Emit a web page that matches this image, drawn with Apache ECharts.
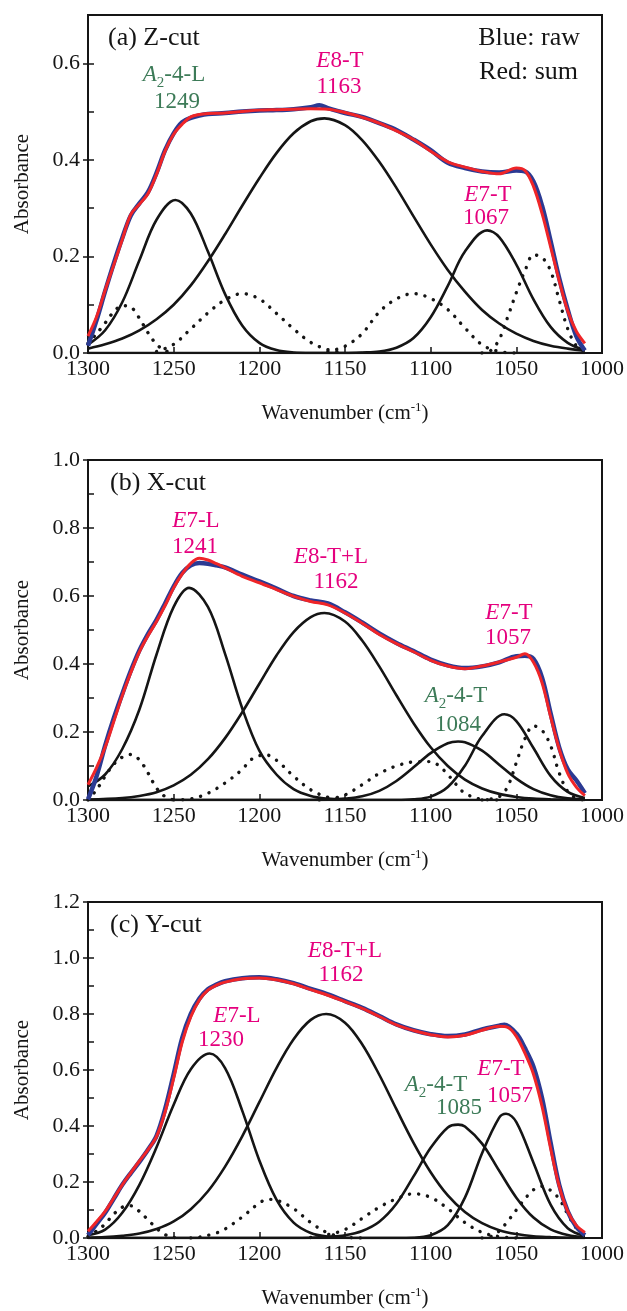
<!DOCTYPE html>
<html>
<head>
<meta charset="UTF-8">
<title>IR absorbance peak fits</title>
<script src="https://cdn.jsdelivr.net/npm/echarts@6/dist/echarts.min.js"></script>
<style>
  html, body { margin: 0; padding: 0; background: #fff; }
  #main { width: 627px; height: 1311px; }
</style>
</head>
<body>
<div id="main"></div>
<script>
// values, as [wavenumber, absorbance]

// (a) Z-cut
var zSum = [[1300,0.035],[1295,0.075],[1290,0.13],[1285,0.182],[1280,0.235],[1275,0.287],[1270,0.308],[1265,0.33],[1260,0.37],[1255,0.418],[1250,0.453],[1245,0.474],[1240,0.489],[1235,0.494],[1230,0.496],[1220,0.497],[1210,0.5],[1200,0.503],[1190,0.504],[1180,0.505],[1170,0.506],[1160,0.505],[1150,0.498],[1140,0.488],[1130,0.476],[1120,0.46],[1110,0.442],[1100,0.418],[1090,0.396],[1080,0.385],[1070,0.376],[1060,0.371],[1050,0.383],[1045,0.378],[1040,0.345],[1035,0.289],[1030,0.22],[1025,0.15],[1020,0.087],[1015,0.045],[1010,0.02]];
var zRaw = [[1300,0.015],[1295,0.068],[1290,0.128],[1285,0.185],[1280,0.238],[1275,0.285],[1270,0.31],[1265,0.333],[1260,0.373],[1255,0.42],[1250,0.455],[1245,0.478],[1240,0.487],[1235,0.492],[1230,0.495],[1220,0.497],[1210,0.5],[1200,0.502],[1190,0.503],[1180,0.505],[1170,0.509],[1165,0.513],[1160,0.507],[1150,0.497],[1140,0.489],[1130,0.476],[1120,0.462],[1110,0.442],[1100,0.42],[1090,0.394],[1080,0.383],[1070,0.376],[1060,0.374],[1050,0.378],[1045,0.376],[1040,0.355],[1035,0.305],[1030,0.232],[1025,0.155],[1020,0.09],[1015,0.035],[1010,0.005]];
var zPeak1249 = [[1300,0.017],[1290,0.047],[1280,0.105],[1270,0.192],[1260,0.276],[1249,0.317],[1240,0.289],[1230,0.21],[1220,0.122],[1210,0.057],[1200,0.021],[1190,0.006],[1180,0.001],[1170,0],[1010,0]];
var zPeak1163 = [[1300,0.009],[1290,0.018],[1280,0.03],[1270,0.047],[1260,0.07],[1250,0.1],[1240,0.14],[1230,0.19],[1220,0.246],[1210,0.305],[1200,0.362],[1190,0.414],[1180,0.455],[1170,0.48],[1162,0.486],[1150,0.472],[1140,0.441],[1130,0.396],[1120,0.342],[1110,0.283],[1100,0.225],[1090,0.172],[1080,0.127],[1070,0.089],[1060,0.061],[1050,0.04],[1040,0.025],[1030,0.015],[1020,0.009],[1010,0.005]];
var zPeak1067 = [[1300,0],[1150,0],[1140,0.001],[1130,0.003],[1120,0.011],[1110,0.031],[1100,0.074],[1090,0.139],[1080,0.21],[1067,0.254],[1060,0.24],[1050,0.183],[1040,0.111],[1030,0.054],[1020,0.021],[1010,0.006]];
var zDot1 = [[1300,0.02],[1295,0.04],[1290,0.062],[1285,0.085],[1280,0.098],[1275,0.095],[1270,0.072],[1265,0.042],[1260,0.018],[1255,0.005],[1250,0]];
var zDot2 = [[1260,0.003],[1250,0.018],[1240,0.05],[1230,0.083],[1220,0.11],[1210,0.123],[1200,0.112],[1190,0.082],[1180,0.05],[1170,0.022],[1160,0.007],[1150,0]];
var zDot3 = [[1160,0.003],[1150,0.014],[1140,0.04],[1130,0.085],[1120,0.112],[1110,0.123],[1100,0.113],[1090,0.09],[1080,0.052],[1070,0.017],[1060,0.003],[1050,0]];
var zDot4 = [[1070,0],[1065,0.005],[1060,0.028],[1055,0.075],[1050,0.125],[1045,0.17],[1040,0.203],[1035,0.198],[1030,0.17],[1025,0.11],[1020,0.05],[1015,0.015],[1010,0.003]];

// (b) X-cut
var xSum = [[1300,0.045],[1295,0.095],[1290,0.155],[1285,0.23],[1280,0.307],[1275,0.375],[1270,0.436],[1265,0.483],[1260,0.525],[1255,0.572],[1250,0.624],[1245,0.665],[1240,0.696],[1235,0.711],[1230,0.706],[1225,0.695],[1220,0.683],[1210,0.658],[1200,0.639],[1190,0.619],[1180,0.599],[1170,0.584],[1160,0.574],[1150,0.55],[1140,0.52],[1130,0.487],[1120,0.46],[1110,0.436],[1100,0.411],[1090,0.394],[1080,0.386],[1070,0.394],[1060,0.406],[1050,0.42],[1045,0.43],[1040,0.405],[1035,0.345],[1030,0.245],[1025,0.15],[1020,0.078],[1015,0.038],[1010,0.013]];
var xRaw = [[1300,0.002],[1295,0.07],[1290,0.16],[1285,0.24],[1280,0.312],[1275,0.38],[1270,0.44],[1265,0.488],[1260,0.53],[1255,0.578],[1250,0.628],[1245,0.668],[1240,0.69],[1235,0.697],[1230,0.695],[1225,0.69],[1220,0.684],[1210,0.663],[1200,0.643],[1190,0.622],[1180,0.6],[1170,0.587],[1160,0.578],[1150,0.552],[1140,0.522],[1130,0.49],[1120,0.462],[1110,0.438],[1100,0.413],[1090,0.396],[1080,0.388],[1070,0.393],[1060,0.405],[1050,0.423],[1045,0.424],[1040,0.415],[1035,0.36],[1030,0.255],[1025,0.155],[1020,0.09],[1015,0.058],[1010,0.02]];
var xPeak1241 = [[1300,0.04],[1290,0.075],[1280,0.15],[1270,0.266],[1260,0.428],[1250,0.568],[1241,0.624],[1230,0.568],[1220,0.43],[1210,0.27],[1200,0.145],[1190,0.075],[1180,0.032],[1170,0.012],[1160,0.004],[1150,0.001],[1140,0],[1010,0]];
var xPeak1162 = [[1300,0.001],[1280,0.006],[1270,0.012],[1260,0.023],[1250,0.043],[1240,0.074],[1230,0.12],[1220,0.182],[1210,0.258],[1200,0.342],[1190,0.425],[1180,0.494],[1170,0.538],[1162,0.55],[1150,0.525],[1140,0.469],[1130,0.393],[1120,0.308],[1110,0.226],[1100,0.155],[1090,0.1],[1080,0.06],[1070,0.034],[1060,0.018],[1050,0.009],[1040,0.004],[1030,0.002],[1010,0]];
var xPeak1084 = [[1300,0],[1170,0],[1160,0.001],[1150,0.004],[1140,0.011],[1130,0.027],[1120,0.056],[1110,0.096],[1100,0.138],[1090,0.167],[1084,0.172],[1080,0.17],[1070,0.145],[1060,0.104],[1050,0.063],[1040,0.032],[1030,0.014],[1020,0.005],[1010,0.002]];
var xPeak1057 = [[1300,0],[1120,0],[1110,0.002],[1100,0.01],[1090,0.038],[1080,0.101],[1070,0.188],[1057,0.252],[1050,0.232],[1040,0.153],[1030,0.071],[1020,0.024],[1010,0.006]];
var xDot1 = [[1300,0],[1295,0.03],[1290,0.07],[1285,0.105],[1280,0.126],[1275,0.134],[1270,0.118],[1265,0.08],[1260,0.035],[1255,0.01],[1250,0]];
var xDot2 = [[1250,0],[1240,0.003],[1230,0.02],[1220,0.05],[1210,0.09],[1205,0.118],[1200,0.13],[1197,0.134],[1190,0.117],[1180,0.07],[1170,0.03],[1160,0.008],[1150,0]];
var xDot3 = [[1165,0],[1160,0.002],[1150,0.015],[1140,0.045],[1130,0.078],[1120,0.1],[1110,0.112],[1100,0.113],[1095,0.1],[1090,0.075],[1085,0.045],[1080,0.02],[1070,0.002],[1060,0]];
var xDot4 = [[1070,0],[1060,0.01],[1055,0.04],[1050,0.11],[1045,0.18],[1040,0.218],[1035,0.205],[1030,0.16],[1025,0.08],[1020,0.025],[1015,0.005],[1010,0]];

// (c) Y-cut
var ySum = [[1300,0.024],[1295,0.058],[1290,0.095],[1285,0.142],[1280,0.19],[1275,0.233],[1270,0.275],[1265,0.315],[1260,0.362],[1255,0.45],[1250,0.57],[1245,0.7],[1240,0.79],[1235,0.85],[1230,0.885],[1225,0.903],[1220,0.914],[1210,0.926],[1200,0.929],[1190,0.922],[1180,0.908],[1170,0.887],[1160,0.867],[1150,0.844],[1140,0.82],[1130,0.791],[1120,0.761],[1110,0.741],[1100,0.726],[1090,0.718],[1080,0.724],[1070,0.742],[1060,0.756],[1055,0.752],[1050,0.72],[1045,0.66],[1040,0.585],[1035,0.47],[1030,0.32],[1025,0.185],[1020,0.095],[1015,0.045],[1010,0.02]];
var yRaw = [[1300,0.01],[1295,0.05],[1290,0.09],[1285,0.14],[1280,0.19],[1275,0.232],[1270,0.272],[1265,0.315],[1260,0.365],[1255,0.46],[1250,0.585],[1245,0.715],[1240,0.8],[1235,0.855],[1230,0.888],[1225,0.905],[1220,0.917],[1210,0.928],[1200,0.931],[1190,0.924],[1180,0.91],[1170,0.89],[1160,0.87],[1150,0.846],[1140,0.822],[1130,0.793],[1120,0.763],[1110,0.742],[1100,0.728],[1090,0.721],[1080,0.727],[1070,0.745],[1060,0.758],[1057,0.762],[1050,0.73],[1045,0.678],[1040,0.612],[1035,0.5],[1030,0.34],[1025,0.19],[1020,0.095],[1015,0.04],[1010,0.01]];
var yPeak1230 = [[1300,0.01],[1290,0.03],[1280,0.09],[1270,0.19],[1260,0.324],[1250,0.476],[1240,0.603],[1229,0.659],[1220,0.607],[1210,0.455],[1200,0.277],[1190,0.137],[1180,0.055],[1170,0.018],[1160,0.005],[1150,0.001],[1140,0],[1010,0]];
var yPeak1162 = [[1300,0.001],[1290,0.003],[1280,0.008],[1270,0.016],[1260,0.032],[1250,0.059],[1240,0.103],[1230,0.167],[1220,0.255],[1210,0.363],[1200,0.485],[1190,0.607],[1180,0.71],[1170,0.779],[1161,0.8],[1150,0.769],[1140,0.692],[1130,0.583],[1120,0.46],[1110,0.34],[1100,0.235],[1090,0.152],[1080,0.093],[1070,0.053],[1060,0.028],[1050,0.014],[1040,0.006],[1030,0.003],[1020,0.001],[1010,0]];
var yPeak1085 = [[1300,0],[1180,0],[1170,0.001],[1160,0.004],[1150,0.01],[1140,0.025],[1130,0.058],[1120,0.122],[1110,0.22],[1100,0.322],[1090,0.395],[1084,0.405],[1080,0.398],[1070,0.337],[1060,0.24],[1050,0.144],[1040,0.073],[1030,0.031],[1020,0.011],[1010,0.003]];
var yPeak1057 = [[1300,0],[1120,0],[1110,0.001],[1100,0.01],[1090,0.046],[1080,0.144],[1070,0.303],[1060,0.43],[1056,0.444],[1050,0.414],[1040,0.269],[1030,0.119],[1020,0.035],[1010,0.007]];
var yDot1 = [[1300,0.005],[1295,0.025],[1290,0.05],[1285,0.085],[1280,0.11],[1275,0.115],[1270,0.095],[1265,0.065],[1260,0.035],[1255,0.012],[1250,0.002],[1245,0]];
var yDot2 = [[1240,0],[1235,0.003],[1225,0.018],[1220,0.032],[1210,0.075],[1200,0.125],[1195,0.138],[1190,0.135],[1180,0.105],[1170,0.055],[1160,0.018],[1150,0.003],[1140,0]];
var yDot3 = [[1170,0.002],[1160,0.012],[1150,0.03],[1140,0.07],[1130,0.11],[1120,0.14],[1110,0.158],[1100,0.145],[1090,0.105],[1080,0.055],[1070,0.02],[1060,0.005],[1050,0]];
var yDot4 = [[1070,0],[1065,0.005],[1060,0.025],[1055,0.06],[1050,0.1],[1045,0.14],[1040,0.172],[1035,0.185],[1030,0.17],[1025,0.14],[1020,0.085],[1015,0.035],[1010,0.005]];

var xTicks = { min: 1000, max: 1300, step: 50 };
var yMax = [0.7, 1.0, 1.2];

var panels = [
  { raw: zRaw, sum: zSum, peaks: [zPeak1249, zPeak1163, zPeak1067], dots: [zDot1, zDot2, zDot3, zDot4] },
  { raw: xRaw, sum: xSum, peaks: [xPeak1241, xPeak1162, xPeak1084, xPeak1057], dots: [xDot1, xDot2, xDot3, xDot4] },
  { raw: yRaw, sum: ySum, peaks: [yPeak1230, yPeak1162, yPeak1085, yPeak1057], dots: [yDot1, yDot2, yDot3, yDot4] }
];

// layout
var FONT = '"Liberation Serif", "Times New Roman", serif';
var INK = '#151515';
var PINK = '#e5007e';
var GREEN = '#3d7b58';
var gridTops = [15, 460, 902];
var gridHeights = [338, 340, 336];

var myChart = echarts.init(document.getElementById('main'), null, { renderer: 'canvas' });

var grids = [], xAxes = [], yAxes = [], series = [];

panels.forEach(function (pn, p) {
  grids.push({
    left: 88, right: 22, top: gridTops[p], height: gridHeights[p],
    show: true, borderColor: INK, borderWidth: 2, backgroundColor: 'transparent'
  });
  xAxes.push({
    gridIndex: p, type: 'value', min: xTicks.min, max: xTicks.max, interval: xTicks.step,
    inverse: true, position: 'bottom',
    axisLine: { show: true, onZero: false, lineStyle: { color: INK, width: 2 } },
    axisTick: { show: true, inside: true, length: 6, lineStyle: { color: INK, width: 1.5 } },
    axisLabel: {
      fontFamily: FONT, fontSize: 22, color: INK, margin: 5,
      formatter: function (v) { return String(v); }
    },
    splitLine: { show: false },
    name: 'Wavenumber (cm{sup|-1})', nameLocation: 'middle', nameGap: 48,
    nameTextStyle: {
      fontFamily: FONT, fontSize: 21, color: INK,
      rich: { sup: { fontFamily: FONT, fontSize: 13, color: INK, padding: [0, 0, 12, 0] } }
    }
  });
  // labelled axis with outer ticks
  yAxes.push({
    gridIndex: p, type: 'value', min: 0, max: yMax[p], interval: 0.2, position: 'left',
    axisLine: { show: true, onZero: false, lineStyle: { color: INK, width: 2 } },
    axisTick: { show: true, inside: false, length: 5, lineStyle: { color: INK, width: 1.5 } },
    axisLabel: {
      fontFamily: FONT, fontSize: 22, color: INK, margin: 8, showMaxLabel: p === 0 ? false : true,
      formatter: function (v) { return v.toFixed(1); }
    },
    splitLine: { show: false },
    name: 'Absorbance', nameLocation: 'middle', nameGap: 55,
    nameTextStyle: { fontFamily: FONT, fontSize: 21, color: INK }
  });
  // inner ticks every 0.1
  yAxes.push({
    gridIndex: p, type: 'value', min: 0, max: yMax[p], interval: 0.1, position: 'left',
    axisLine: { show: false }, axisLabel: { show: false }, splitLine: { show: false },
    axisTick: { show: true, inside: true, length: 6, lineStyle: { color: INK, width: 1.5 } }
  });

  var base = { type: 'line', xAxisIndex: p, yAxisIndex: 2 * p, symbol: 'none', smooth: 0.35, silent: true, clip: true };
  pn.dots.forEach(function (d) {
    series.push(Object.assign({}, base, {
      data: d, z: 2,
      lineStyle: { color: INK, width: 3.4, type: [0.1, 9], cap: 'round' }
    }));
  });
  pn.peaks.forEach(function (d) {
    series.push(Object.assign({}, base, {
      data: d, z: 3, lineStyle: { color: INK, width: 2.6 }
    }));
  });
  series.push(Object.assign({}, base, { data: pn.raw, z: 4, lineStyle: { color: '#2b3a93', width: 4.5 } }));
  series.push(Object.assign({}, base, { data: pn.sum, z: 5, lineStyle: { color: '#ef2528', width: 3 } }));
});

// text annotations: [x, y, text, color, size, align]
var notes = [
  [108, 38, '(a) Z-cut', INK, 26, 'left'],
  [580, 38, 'Blue: raw', INK, 26, 'right'],
  [578, 72, 'Red: sum', INK, 26, 'right'],
  [174, 75, '{i|A}{sub|2}-4-L', GREEN, 23, 'center'],
  [177, 102, '1249', GREEN, 23, 'center'],
  [340, 61, '{i|E}8-T', PINK, 23, 'center'],
  [339, 87, '1163', PINK, 23, 'center'],
  [488, 195, '{i|E}7-T', PINK, 23, 'center'],
  [486, 218, '1067', PINK, 23, 'center'],

  [110, 483, '(b) X-cut', INK, 26, 'left'],
  [196, 521, '{i|E}7-L', PINK, 23, 'center'],
  [195, 547, '1241', PINK, 23, 'center'],
  [331, 557, '{i|E}8-T+L', PINK, 23, 'center'],
  [336, 582, '1162', PINK, 23, 'center'],
  [509, 613, '{i|E}7-T', PINK, 23, 'center'],
  [508, 638, '1057', PINK, 23, 'center'],
  [456, 696, '{i|A}{sub|2}-4-T', GREEN, 23, 'center'],
  [458, 725, '1084', GREEN, 23, 'center'],

  [110, 925, '(c) Y-cut', INK, 26, 'left'],
  [345, 951, '{i|E}8-T+L', PINK, 23, 'center'],
  [341, 975, '1162', PINK, 23, 'center'],
  [237, 1016, '{i|E}7-L', PINK, 23, 'center'],
  [221, 1040, '1230', PINK, 23, 'center'],
  [436, 1085, '{i|A}{sub|2}-4-T', GREEN, 23, 'center'],
  [459, 1108, '1085', GREEN, 23, 'center'],
  [501, 1069, '{i|E}7-T', PINK, 23, 'center'],
  [510, 1096, '1057', PINK, 23, 'center']
];

var graphics = notes.map(function (n) {
  return {
    type: 'text', x: n[0], y: n[1], silent: true, z: 10,
    style: {
      text: n[2], fill: n[3], fontSize: n[4], fontFamily: FONT,
      align: n[5], verticalAlign: 'middle',
      rich: {
        i: { fontStyle: 'italic', fontSize: n[4], fontFamily: FONT, fill: n[3] },
        sub: { fontSize: 15, fontFamily: FONT, fill: n[3], padding: [16, 0, 0, 0] }
      }
    }
  };
});

myChart.setOption({
  animation: false,
  backgroundColor: '#fff',
  grid: grids,
  xAxis: xAxes,
  yAxis: yAxes,
  series: series,
  graphic: graphics
});
</script>
</body>
</html>
